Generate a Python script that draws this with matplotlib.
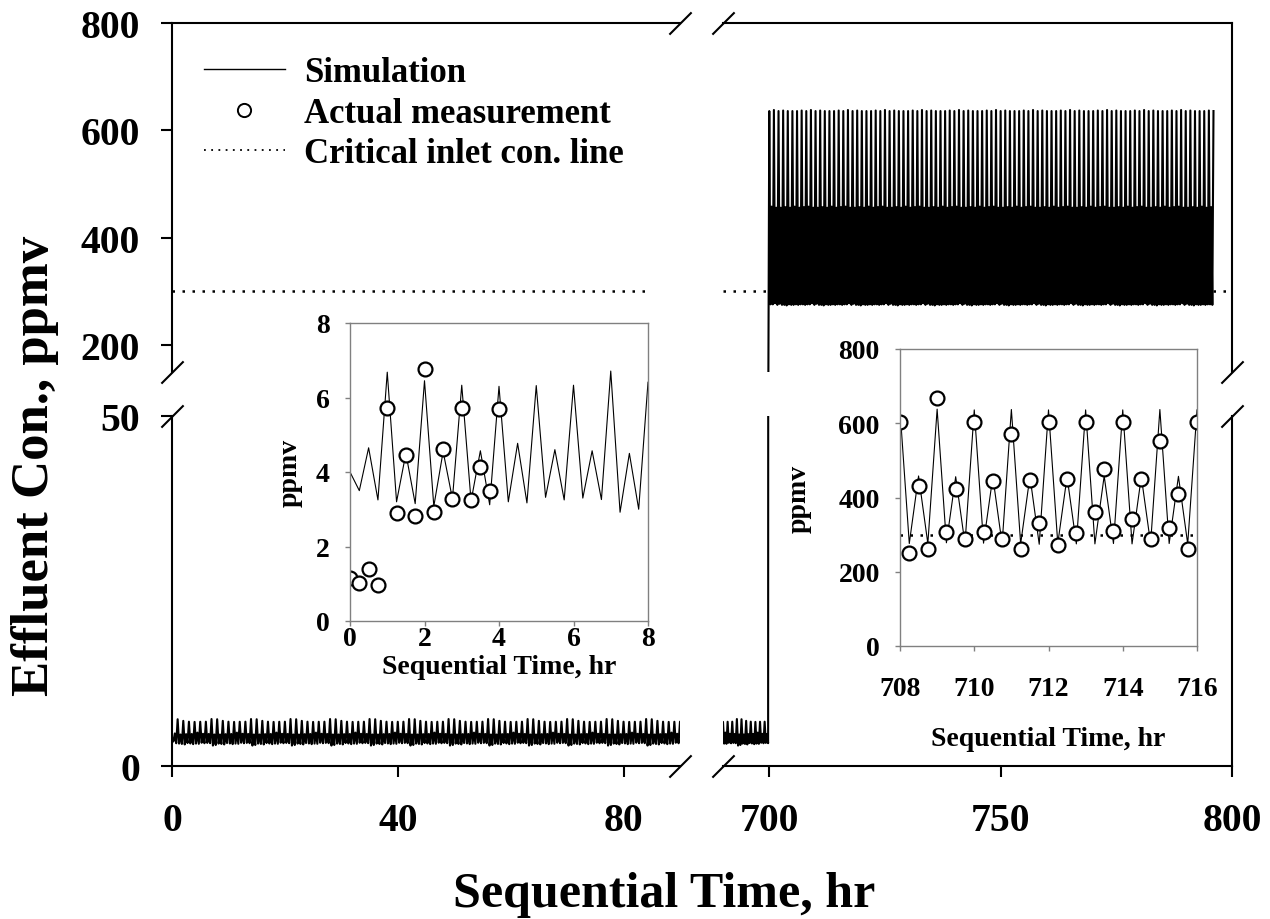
import numpy as np
import matplotlib
matplotlib.use("Agg")
import matplotlib.pyplot as plt
from matplotlib.lines import Line2D

plt.rcParams['font.family'] = 'Liberation Serif'
plt.rcParams['font.weight'] = 'bold'
plt.rcParams['axes.labelweight'] = 'bold'

# start-up period, 15 min steps (ppmv)
early_time = np.arange(0, 8.01, 0.25)
early_sim = [4.00, 3.50, 4.65, 3.25, 6.68, 3.20, 4.50, 3.15, 6.45, 3.08, 4.55,
             3.28, 6.33, 3.22, 4.57, 3.12, 6.30, 3.20, 4.77, 3.17, 6.32, 3.32,
             4.60, 3.25, 6.33, 3.30, 4.57, 3.26, 6.71, 2.92, 4.50, 3.00, 6.41]
early_meas_time = np.arange(0, 4.01, 0.25)
early_meas = [1.16, 1.03, 1.39, 0.96, 5.71, 2.91, 4.45, 2.82, 6.77, 2.93, 4.61,
              3.27, 5.71, 3.25, 4.14, 3.48, 5.69]

# after the inlet step, 15 min steps (ppmv)
late_time = np.arange(708, 716.01, 0.25)
late_sim = [636, 276, 458, 276, 638, 278, 456, 275, 636, 277, 456, 275, 637,
            275, 457, 274, 636, 276, 456, 275, 636, 275, 458, 276, 636, 275,
            456, 276, 637, 276, 457, 275, 636]
late_meas = [604, 250, 431, 262, 668, 306, 422, 289, 604, 306, 445, 289, 571,
             262, 448, 331, 604, 271, 449, 304, 604, 361, 476, 310, 604, 342,
             449, 289, 552, 319, 409, 261, 604]

crit_level = 300
crit_left = [0, 84]
crit_right = [690, 800]
step_time = 700
run_end = 796
dt = 0.25

# whole run: low-load hourly cycle until the step, high-load cycle after it
low_cycle = early_sim[4:32]
high_cycle = late_sim[:32]
n_low = int(step_time / dt)
n_high = int((run_end - step_time) / dt) + 1
low_part = np.concatenate([early_sim[:4],
                           np.tile(low_cycle, n_low // len(low_cycle) + 1)])[:n_low]
high_part = np.tile(high_cycle, n_high // len(high_cycle) + 1)[:n_high]
run_sim = np.concatenate([low_part, high_part])
run_time = np.arange(len(run_sim)) * dt

W, H = 1270, 920
fig = plt.figure(figsize=(W / 100, H / 100), dpi=100)

ax_ul = fig.add_axes([172 / W, 1 - 373 / H, 508 / W, 349 / H])
ax_ll = fig.add_axes([172 / W, 1 - 767 / H, 508 / W, 350 / H])
ax_ur = fig.add_axes([723 / W, 1 - 373 / H, 509 / W, 349 / H])
ax_lr = fig.add_axes([723 / W, 1 - 767 / H, 509 / W, 350 / H])

for ax in (ax_ul, ax_ll, ax_ur, ax_lr):
    ax.plot(run_time, run_sim, color='k', lw=1.5)
    for s in ax.spines.values():
        s.set_linewidth(1.5)
    ax.tick_params(direction='out', length=8, width=1.5, labelsize=28.5)
    ax.tick_params(axis='y', pad=15)
    ax.tick_params(axis='x', pad=18)

ax_ul.hlines(crit_level, crit_left[0], crit_left[1], colors='k', lw=1.8,
             linestyles=(0, (1, 3)))
ax_ur.hlines(crit_level, crit_right[0], crit_right[1], colors='k', lw=1.8,
             linestyles=(0, (1, 3)))

ax_ul.set_xlim(0, 90)
ax_ll.set_xlim(0, 90)
ax_ur.set_xlim(690, 800)
ax_lr.set_xlim(690, 800)
ax_ul.set_ylim(150, 800)
ax_ur.set_ylim(150, 800)
ax_ll.set_ylim(0, 50)
ax_lr.set_ylim(0, 50)

ax_ul.set_yticks([200, 400, 600, 800])
ax_ll.set_yticks([0, 50])
ax_ll.set_xticks([0, 40, 80])
ax_lr.set_xticks([700, 750, 800])

ax_ul.spines[['right', 'bottom']].set_visible(False)
ax_ll.spines[['right', 'top']].set_visible(False)
ax_ur.spines[['left', 'bottom']].set_visible(False)
ax_lr.spines[['left', 'top']].set_visible(False)
ax_ul.tick_params(bottom=False, labelbottom=False)
ax_ur.tick_params(bottom=False, labelbottom=False, left=False, labelleft=False)
ax_lr.tick_params(left=False, labelleft=False)

# diagonal break marks
kw = dict(marker=[(-1, -1), (1, 1)], markersize=16, linestyle='none',
          color='k', mec='k', mew=1.5, clip_on=False)
ax_ul.plot([1, 0], [1, 0], transform=ax_ul.transAxes, **kw)
ax_ll.plot([1, 0], [0, 1], transform=ax_ll.transAxes, **kw)
ax_ur.plot([0, 1], [1, 0], transform=ax_ur.transAxes, **kw)
ax_lr.plot([0, 1], [0, 1], transform=ax_lr.transAxes, **kw)

handles = [Line2D([], [], color='k', lw=1),
           Line2D([], [], ls='none', marker='o', mfc='w', mec='k', ms=9.5, mew=1.4),
           Line2D([], [], color='k', lw=1.3, ls=(0, (1, 3)))]
ax_ul.legend(handles, ['Simulation', 'Actual measurement', 'Critical inlet con. line'],
             loc='upper left', bbox_to_anchor=(0.063, 0.905), frameon=False,
             fontsize=25, handlelength=2.33, handletextpad=0.55,
             labelspacing=0.22, borderpad=0, borderaxespad=0)

fig.text(664 / W, 1 - 907 / H, 'Sequential Time, hr', ha='center',
         va='baseline', fontsize=36)
fig.text(35 / W, 1 - 466 / H, 'Effluent Con., ppmv', rotation=90,
         ha='center', va='center', fontsize=38)

# insets
in_l = fig.add_axes([350 / W, 1 - 622 / H, 298 / W, 298 / H])
in_r = fig.add_axes([900 / W, 1 - 647 / H, 297 / W, 297 / H])

in_l.plot(early_time, early_sim, color='k', lw=0.8)
in_l.plot(early_meas_time, early_meas, ls='none', marker='o', mfc='w',
          mec='k', ms=10, mew=1.6)
in_l.set_xlim(0, 8)
in_l.set_ylim(0, 8)
in_l.set_xticks([0, 2, 4, 6, 8])
in_l.set_yticks([0, 2, 4, 6, 8])

in_r.plot(late_time, late_sim, color='k', lw=0.8)
in_r.hlines(crit_level, late_time[0], late_time[-1], colors='k', lw=1.8,
            linestyles=(0, (1, 3)))
in_r.plot(late_time, late_meas, ls='none', marker='o', mfc='w',
          mec='k', ms=10, mew=1.6)
in_r.set_xlim(708, 716)
in_r.set_ylim(0, 800)
in_r.set_xticks([708, 710, 712, 714, 716])
in_r.set_yticks([0, 200, 400, 600, 800])

for ax in (in_l, in_r):
    ax.set_facecolor('white')
    for s in ax.spines.values():
        s.set_color('#808080')
        s.set_linewidth(1)
    ax.tick_params(direction='out', length=3.5, width=1, color='#808080',
                   labelsize=20, pad=11)
    ax.set_ylabel('ppmv', fontsize=20, fontweight='bold')
    ax.set_xlabel('Sequential Time, hr', fontsize=20, fontweight='bold')

in_l.tick_params(axis='x', pad=0)
in_r.tick_params(axis='x', pad=18)
in_l.yaxis.set_label_coords(-0.16, 0.5)
in_l.xaxis.set_label_coords(0.5, -0.11)
in_r.yaxis.set_label_coords(-0.296, 0.5)
in_r.xaxis.set_label_coords(0.5, -0.27)

fig.savefig('out.png', dpi=100)
